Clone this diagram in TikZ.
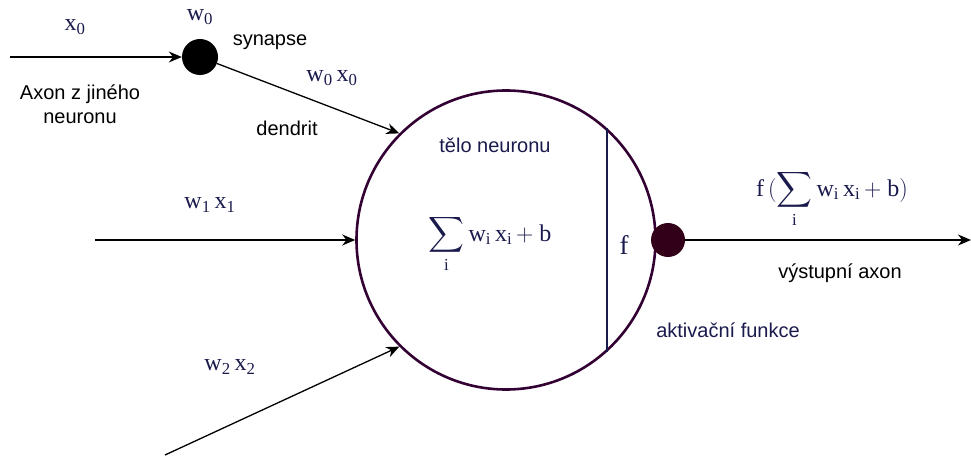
\documentclass[tikz,border=0pt]{standalone}
\usepackage{fix-cm}
\usepackage{amsmath}
\usepackage{fontspec}
\setmainfont{Liberation Serif}
\setsansfont{Liberation Sans}
\usetikzlibrary{arrows.meta,positioning}
\definecolor{cell}{RGB}{51,0,51}
\definecolor{ink}{RGB}{26,26,77}
\definecolor{knob}{RGB}{51,0,26}

\begin{document}
\begin{tikzpicture}[x=1pt,y=-1pt,
  lbl/.style={font=\sffamily\fontsize{20}{24}\selectfont,align=center,inner sep=1pt},
  nlbl/.style={lbl,text=ink},
  eq/.style={font=\fontsize{24}{28}\selectfont,text=ink,inner sep=1pt},
  dot/.style={circle,minimum size=36pt,inner sep=0pt},
  ar/.style={-{Stealth[length=13pt,width=11pt]},line width=1.3pt}]
\useasboundingbox (0,0) rectangle (971,457);
\node[circle,draw=cell,line width=2.6pt,minimum size=299pt,inner sep=0pt] (body) at (506,240) {};
\node[dot,fill=black] (syn) at (200,57) {};
\node[dot,fill=knob,minimum size=34pt] (out) at (668,240) {};
\coordinate (in0) at (10,57);
\coordinate (in1) at (95,240);
\coordinate (in2) at (165,455);
\coordinate (end) at (971,240);
\draw[ink,line width=2.6pt] (body.48) -- (body.-48);
\draw[ar] (in0) -- (syn);
\draw[ar] (syn) -- (body.135);
\draw[ar] (in1) -- (body.180);
\draw[ar] (in2) -- (body.225);
\draw[ar] (out) -- (end);
% labels
\node[eq] (lx0) at (75,27) {$\mathrm{x}_{\mathrm{0}}$};
\node[eq] (lw0) at (200,17) {$\mathrm{w}_{\mathrm{0}}$};
\node[lbl] (lsyn) at (270,42) {synapse};
\node[lbl] (laxon) at (80,104) {Axon z jiného\\neuronu};
\node[eq] (lwx0) at (332,78) {$\mathrm{w}_{\mathrm{0}}\,\mathrm{x}_{\mathrm{0}}$};
\node[lbl] (lden) at (287,128) {dendrit};
\node[nlbl] (lbody) at (495,145) {tělo neuronu};
\node[eq] (lwx1) at (210,205) {$\mathrm{w}_{\mathrm{1}}\,\mathrm{x}_{\mathrm{1}}$};
\node[eq] (lsum) at (490,244) {$\displaystyle\sum_{\mathrm{i}}\mathrm{w}_{\mathrm{i}}\,\mathrm{x}_{\mathrm{i}}\,\mathrm{+\ b}$};
\node[eq,font=\fontsize{27}{30}\selectfont] (lf) at (624,245) {$\mathrm{f}$};
\node[eq] (lfun) at (832,199) {$\mathrm{f}\,(\displaystyle\sum_{\mathrm{i}}\mathrm{w}_{\mathrm{i}}\,\mathrm{x}_{\mathrm{i}}\,\mathrm{+\ b)}$};
\node[lbl] (lout) at (840,273) {výstupní axon};
\node[nlbl] (lact) at (728,330) {aktivační funkce};
\node[eq] (lwx2) at (230,367) {$\mathrm{w}_{\mathrm{2}}\,\mathrm{x}_{\mathrm{2}}$};
\end{tikzpicture}
\end{document}
